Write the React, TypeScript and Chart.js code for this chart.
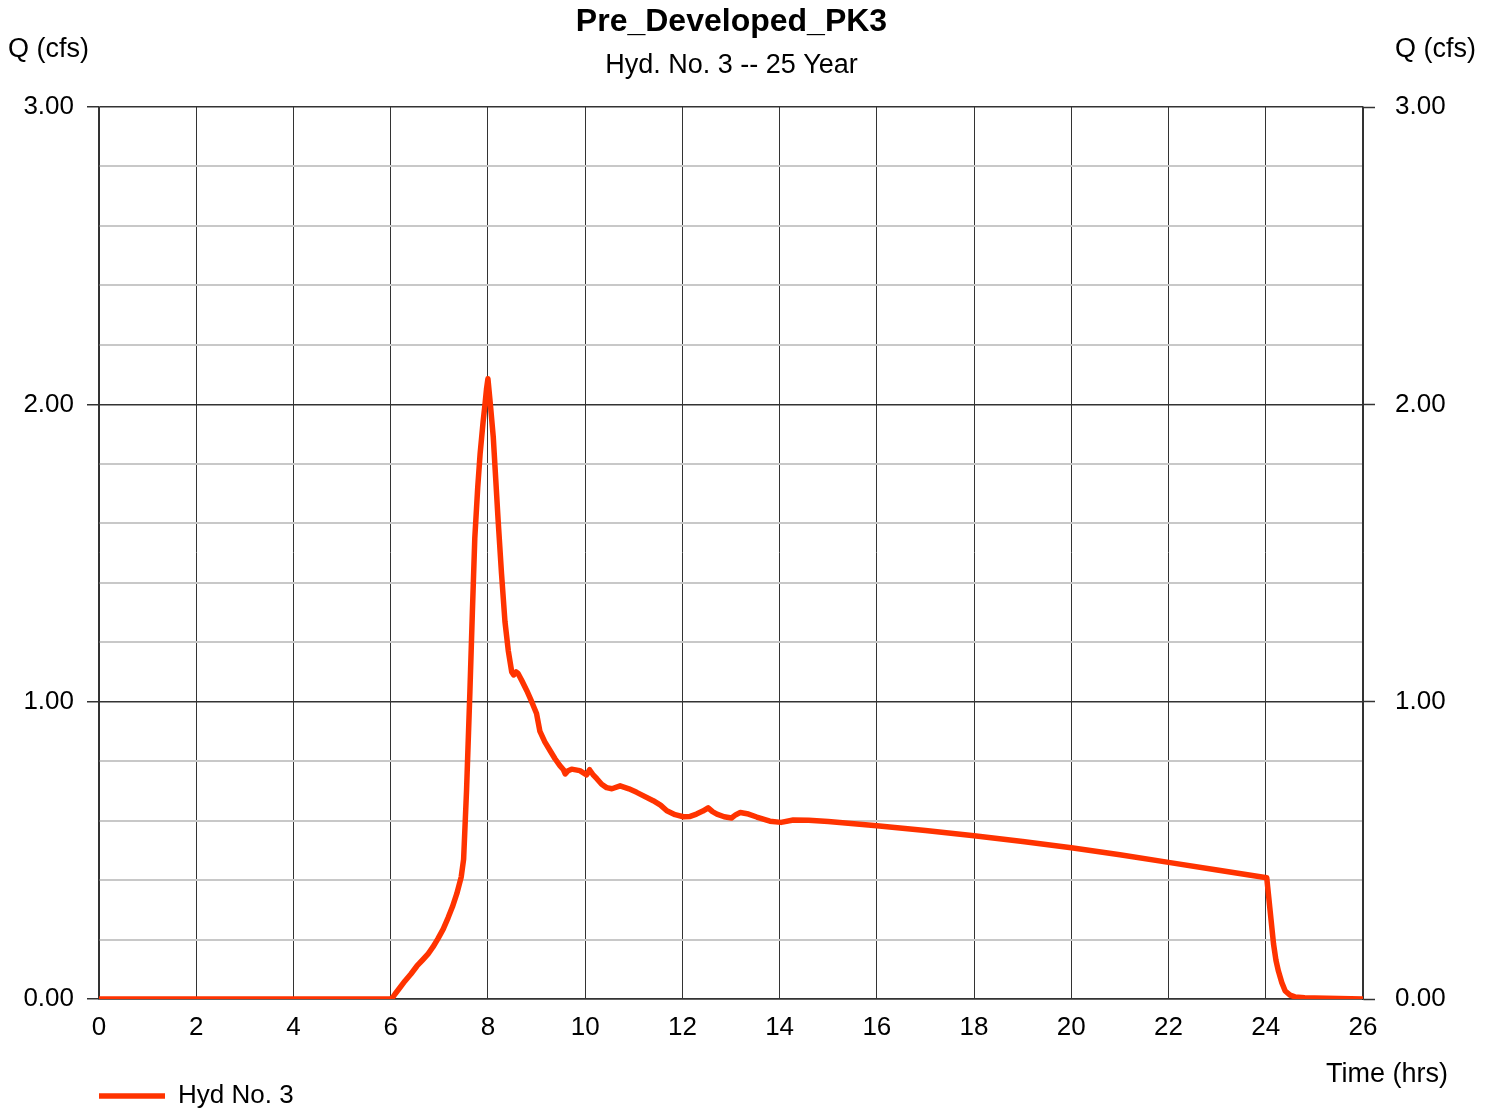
import React, { useEffect, useRef } from "react";
import { Chart, registerables } from "chart.js";

Chart.register(...registerables);

const FONT = '"Liberation Sans", Arial, sans-serif';

const chartTitle = "Pre_Developed_PK3";
const chartSubtitle = "Hyd. No. 3 -- 25 Year";
const yAxisLabel = "Q (cfs)";
const xAxisLabel = "Time (hrs)";
const seriesName = "Hyd No. 3";

const hours = [
  0, 6.0, 6.04, 6.09, 6.18, 6.29, 6.42, 6.54, 6.66, 6.77, 6.87, 6.97, 7.08,
  7.18, 7.27, 7.36, 7.45, 7.5, 7.56, 7.63, 7.68, 7.73, 7.79, 7.84, 7.9, 7.94,
  7.97, 8.0, 8.05, 8.11, 8.16, 8.21, 8.28, 8.35, 8.42, 8.49, 8.53, 8.58, 8.62,
  8.7, 8.8, 8.9, 9.0, 9.07, 9.17, 9.28, 9.38, 9.48, 9.55, 9.59, 9.65, 9.72,
  9.89, 10.03, 10.09, 10.16, 10.24, 10.34, 10.44, 10.55, 10.72, 10.9, 11.06,
  11.4, 11.55, 11.68, 11.85, 12.02, 12.16, 12.29, 12.42, 12.53, 12.62, 12.71,
  12.86, 13.01, 13.1, 13.19, 13.36, 13.53, 13.8, 14.03, 14.28, 14.6, 15, 16,
  17, 18, 19, 20, 21, 22, 23, 24.02, 24.05, 24.09, 24.16, 24.21, 24.26, 24.33,
  24.4, 24.5, 24.6, 24.8, 25.0, 26,
];
const flows = [
  0, 0, 0.005, 0.017, 0.036, 0.06, 0.085, 0.111, 0.132, 0.152, 0.175, 0.202,
  0.235, 0.273, 0.31, 0.354, 0.41, 0.47, 0.7, 1.037, 1.3, 1.55, 1.72, 1.835,
  1.94, 2.0, 2.05, 2.086, 2.0, 1.89, 1.75, 1.61, 1.43, 1.27, 1.17, 1.1, 1.09,
  1.1, 1.095, 1.07, 1.037, 1.0, 0.96, 0.9, 0.865, 0.835, 0.808, 0.785, 0.772,
  0.757, 0.768, 0.773, 0.768, 0.754, 0.771, 0.755, 0.741, 0.722, 0.711, 0.707,
  0.717, 0.707, 0.695, 0.667, 0.652, 0.633, 0.62, 0.613, 0.614, 0.622, 0.632,
  0.643, 0.63, 0.622, 0.613, 0.609, 0.62, 0.627, 0.622, 0.612, 0.598, 0.594,
  0.602, 0.601, 0.597, 0.583, 0.567, 0.549, 0.53, 0.509, 0.485, 0.4595, 0.434,
  0.408, 0.36, 0.296, 0.185, 0.13, 0.094, 0.055, 0.027, 0.013, 0.007, 0.004,
  0.003, 0,
];

const xMin = 0;
const xMax = 26;
const xStep = 2;
const yMin = 0;
const yMax = 3;
const yStep = 0.2;

const isMajor = (v: number) => Math.abs(v - Math.round(v)) < 1e-6;

const extraLabels = {
  id: "extraLabels",
  afterLayout(chart: any) {
    const lg = chart.legend;
    if (lg) {
      lg.left += 95;
      lg.right += 95;
      lg.top += 9;
      lg.bottom += 9;
    }
  },
  afterDraw(chart: any) {
    const ctx = chart.ctx;
    ctx.save();
    ctx.fillStyle = "#000";
    ctx.font = `27px ${FONT}`;
    ctx.textBaseline = "middle";
    ctx.textAlign = "left";
    ctx.fillText(yAxisLabel, 8, 50);
    ctx.fillText(yAxisLabel, 1395, 50);
    ctx.textAlign = "right";
    ctx.fillText(xAxisLabel, 1448, 1075);
    ctx.restore();
  },
};

export default function App() {
  const ref = useRef<HTMLCanvasElement | null>(null);
  useEffect(() => {
    if (!ref.current) return;
    const data = hours.map((h, i) => ({ x: h, y: flows[i] }));
    const yTickOpts = (pad: number) => ({
      min: yMin,
      max: yMax,
      ticks: {
        stepSize: yStep,
        padding: pad,
        color: "#000",
        font: { family: FONT, size: 26 },
        callback: (v: any) => (isMajor(Number(v)) ? Number(v).toFixed(2) : ""),
        autoSkip: false,
      },
    });
    const majorTick = (c: any) => (isMajor(c.tick?.value ?? 0) ? "#333" : "rgba(0,0,0,0)");
    const chart = new Chart(ref.current, {
      type: "line",
      data: {
        datasets: [
          {
            label: seriesName,
            data,
            borderColor: "#ff3300",
            backgroundColor: "#ff3300",
            borderWidth: 5.5,
            pointRadius: 0,
            tension: 0,
            borderCapStyle: "round",
            borderJoinStyle: "round",
            fill: false,
          } as any,
        ],
      },
      options: {
        animation: false,
        responsive: true,
        maintainAspectRatio: false,
        layout: { padding: { left: 0, right: 28, top: 0, bottom: 0 } },
        scales: {
          x: {
            type: "linear",
            min: xMin,
            max: xMax,
            ticks: {
              stepSize: xStep,
              padding: 13,
              color: "#000",
              font: { family: FONT, size: 26 },
            },
            grid: { color: "#333", lineWidth: 1, drawTicks: false },
            border: { color: "#333", width: 1.5 },
            afterFit: (s: any) => {
              s.height = 71;
            },
          },
          y: {
            position: "left",
            ...yTickOpts(13),
            grid: {
              color: (c: any) => (isMajor(c.tick?.value ?? 0) ? "#333" : "#c8c8c8"),
              lineWidth: (c: any) => (isMajor(c.tick?.value ?? 0) ? 1.5 : 2),
              tickLength: 12,
              tickColor: majorTick,
              tickWidth: 1.5,
            },
            border: { color: "#333", width: 1.5 },
            afterFit: (s: any) => {
              s.width = 99;
            },
          } as any,
          y2: {
            position: "right",
            ...yTickOpts(20),
            grid: {
              drawOnChartArea: false,
              tickLength: 12,
              tickColor: majorTick,
              tickWidth: 1.5,
            },
            border: { color: "#333", width: 1.5 },
            afterFit: (s: any) => {
              s.width = 100;
            },
          } as any,
        },
        plugins: {
          title: {
            display: true,
            text: chartTitle,
            color: "#000",
            font: { family: FONT, size: 32, weight: "bold" },
            padding: { top: 2.8, bottom: 0 },
          },
          subtitle: {
            display: true,
            text: chartSubtitle,
            color: "#000",
            font: { family: FONT, size: 27 },
            padding: { top: 8.6, bottom: 24.8 },
          },
          legend: {
            display: true,
            position: "bottom",
            align: "start",
            labels: {
              color: "#000",
              font: { family: FONT, size: 26 },
              usePointStyle: true,
              pointStyle: "line",
              pointStyleWidth: 66,
              padding: 4,
            },
          },
          tooltip: { enabled: false },
        },
      },
      plugins: [extraLabels],
    });
    return () => chart.destroy();
  }, []);
  return (
    <div style={{ position: "fixed", left: 0, top: 0, width: 1491, height: 1110, background: "#fff" }}>
      <canvas ref={ref} />
    </div>
  );
}
